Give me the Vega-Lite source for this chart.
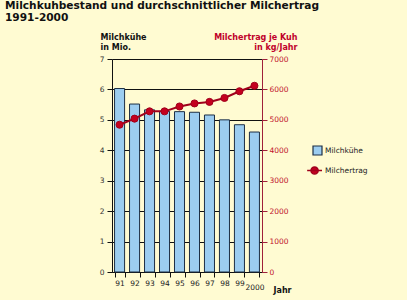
{
  "$schema": "https://vega.github.io/schema/vega-lite/v6.json",
  "width": 150,
  "height": 213,
  "autosize": "none",
  "padding": {"left": 112, "top": 59, "right": 145, "bottom": 28},
  "background": "#fffbd2",
  "config": {"view": {"stroke": null}, "font": "DejaVu Sans"},
  "title": {
    "text": ["Milchkuhbestand und durchschnittlicher Milchertrag", "1991-2000"],
    "anchor": "start",
    "frame": "group",
    "dx": -107,
    "offset": 9,
    "font": "DejaVu Sans",
    "fontSize": 10.6,
    "fontWeight": "bold",
    "color": "#111111",
    "lineHeight": 12
  },
  "data": {
    "values": [
      {"Jahr": "91", "Kuehe": 6.03, "Ertrag": 4840},
      {"Jahr": "92", "Kuehe": 5.52, "Ertrag": 5040},
      {"Jahr": "93", "Kuehe": 5.33, "Ertrag": 5280},
      {"Jahr": "94", "Kuehe": 5.28, "Ertrag": 5280},
      {"Jahr": "95", "Kuehe": 5.27, "Ertrag": 5440},
      {"Jahr": "96", "Kuehe": 5.25, "Ertrag": 5540},
      {"Jahr": "97", "Kuehe": 5.16, "Ertrag": 5590},
      {"Jahr": "98", "Kuehe": 5.0, "Ertrag": 5720},
      {"Jahr": "99", "Kuehe": 4.84, "Ertrag": 5940},
      {"Jahr": "2000", "Kuehe": 4.6, "Ertrag": 6120}
    ]
  },
  "encoding": {
    "x": {
      "field": "Jahr",
      "type": "nominal",
      "sort": null,
      "scale": {"paddingInner": 0.33, "paddingOuter": 0.17},
      "axis": {
        "title": "Jahr",
        "titleX": 161,
        "titleY": 18,
        "titleAlign": "left",
        "titleBaseline": "middle",
        "titleFontWeight": "bold",
        "titleFontSize": 8,
        "titleColor": "#111111",
        "labelAngle": 0,
        "tickBand": "extent",
        "tickSize": 5,
        "domainColor": "#111111",
        "tickColor": "#111111",
        "labelColor": "#222222",
        "labelFontSize": 7.5,
        "labelPadding": {"condition": {"test": "datum.value === '2000'", "value": 6}, "value": 2}
      }
    }
  },
  "layer": [
    {
      "mark": {"type": "bar", "stroke": "#1d2f45", "strokeWidth": 1},
      "encoding": {
        "y": {
          "field": "Kuehe",
          "type": "quantitative",
          "scale": {"domain": [0, 7]},
          "axis": {
            "title": ["Milchkühe", "in Mio."],
            "titleAngle": 0,
            "titleAlign": "left",
            "titleBaseline": "top",
            "titleX": -12,
            "titleY": -26,
            "titleFontSize": 8,
            "titleFontWeight": "bold",
            "titleColor": "#111111",
            "titleLineHeight": 10,
            "values": [0, 1, 2, 3, 4, 5, 6, 7],
            "grid": true,
            "gridColor": "#111111",
            "gridOpacity": 1,
            "domainColor": "#111111",
            "tickColor": "#111111",
            "tickSize": 5,
            "labelFontSize": 7.5,
            "labelColor": "#333333",
            "labelPadding": 3
          }
        },
        "fill": {
          "datum": "Milchkühe",
          "scale": {"domain": ["Milchkühe"], "range": ["#9ccdf0"]},
          "legend": {
            "title": null,
            "orient": "none",
            "legendX": 200,
            "legendY": 86,
            "padding": 0,
            "symbolType": "square",
            "symbolSize": 81,
            "symbolStrokeColor": "#1d2f45",
            "symbolStrokeWidth": 1.2,
            "labelFontSize": 7.5,
            "labelColor": "#222222",
            "labelOffset": 2
          }
        }
      }
    },
    {
      "mark": {"type": "line", "strokeWidth": 2, "point": {"filled": true, "fill": "#c4001f", "size": 50, "strokeWidth": 1}},
      "encoding": {
        "y": {
          "field": "Ertrag",
          "type": "quantitative",
          "scale": {"domain": [0, 7000]},
          "axis": {
            "orient": "right",
            "title": ["Milchertrag je Kuh", "in kg/Jahr"],
            "titleAngle": 0,
            "titleAlign": "right",
            "titleBaseline": "top",
            "titleX": 35,
            "titleY": -26,
            "titleFontSize": 8,
            "titleFontWeight": "bold",
            "titleColor": "#c0002a",
            "titleLineHeight": 10,
            "values": [0, 1000, 2000, 3000, 4000, 5000, 6000, 7000],
            "format": "d",
            "grid": false,
            "domainColor": "#a0203a",
            "tickColor": "#a0203a",
            "tickSize": 5,
            "labelFontSize": 7.5,
            "labelColor": "#c0102a",
            "labelPadding": 2
          }
        },
        "stroke": {
          "datum": "Milchertrag",
          "scale": {"domain": ["Milchertrag"], "range": ["#a0001c"]},
          "legend": {
            "title": null,
            "orient": "none",
            "legendX": 200,
            "legendY": 106,
            "padding": 0,
            "symbolType": "M-2.3,0H1.0M0.15,0A0.8,0.8,0,1,1,-1.45,0A0.8,0.8,0,1,1,0.15,0",
            "symbolSize": 81,
            "symbolFillColor": "#c4001f",
            "symbolStrokeWidth": 1.5,
            "labelFontSize": 7.5,
            "labelColor": "#222222",
            "labelOffset": 2
          }
        }
      }
    }
  ],
  "resolve": {"scale": {"y": "independent"}}
}
